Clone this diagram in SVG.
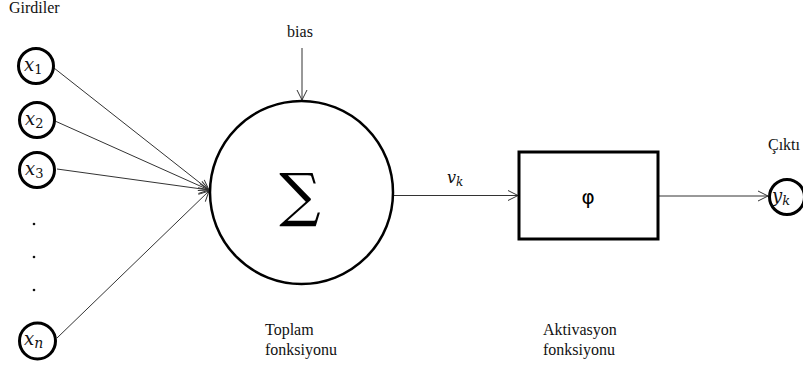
<svg xmlns="http://www.w3.org/2000/svg" width="803" height="371" viewBox="0 0 803 371">
<defs>
<marker id="arr" viewBox="0 0 12 12" refX="11" refY="6" markerWidth="12" markerHeight="12" markerUnits="userSpaceOnUse" orient="auto">
<path d="M1,1 L11,6 L1,11" fill="none" stroke="#333" stroke-width="1"/>
</marker>
<style>
.lbl{font-family:'Liberation Serif',serif;font-size:16px;fill:#111}
.math{font-family:'DejaVu Serif','Liberation Serif',serif;font-style:italic;fill:#111}
.sub{font-style:normal}
.node{fill:#fff;stroke:#000}
.conn{stroke:#333;stroke-width:1;fill:none;marker-end:url(#arr)}
</style>
</defs>
<rect width="803" height="371" fill="#fff"/>
<text class="lbl" x="9" y="13">Girdiler</text>
<g id="connectors">
<line class="conn" x1="54" y1="68" x2="209" y2="190"/>
<line class="conn" x1="55" y1="121" x2="209" y2="190"/>
<line class="conn" x1="57" y1="169" x2="209" y2="190"/>
<line class="conn" x1="57" y1="338" x2="209" y2="191"/>
<line class="conn" x1="302" y1="48" x2="302" y2="100"/>
<line class="conn" x1="393" y1="195.5" x2="518" y2="195.5"/>
<line class="conn" x1="659" y1="196" x2="768" y2="196"/>
</g>
<g id="x1"><circle class="node" cx="36" cy="66" r="17.5" stroke-width="3"/><text class="math" x="24" y="71" font-size="18">x<tspan class="sub" font-size="13" dy="3">1</tspan></text></g>
<g id="x2"><circle class="node" cx="37" cy="120" r="17.5" stroke-width="3"/><text class="math" x="25" y="125" font-size="18">x<tspan class="sub" font-size="13" dy="3">2</tspan></text></g>
<g id="x3"><circle class="node" cx="37" cy="170" r="17.5" stroke-width="3"/><text class="math" x="25" y="175" font-size="18">x<tspan class="sub" font-size="13" dy="3">3</tspan></text></g>
<g id="dots" fill="#111"><circle cx="34" cy="224" r="1.3"/><circle cx="34" cy="257" r="1.3"/><circle cx="34" cy="290" r="1.3"/></g>
<g id="xn"><circle class="node" cx="37.5" cy="341" r="18" stroke-width="3"/><text class="math" x="24" y="345" font-size="18">x<tspan font-size="14" dy="3">n</tspan></text></g>
<g id="bias"><text class="lbl" x="300" y="37" text-anchor="middle">bias</text></g>
<g id="sum"><circle class="node" cx="301.5" cy="192.5" r="91.5" stroke-width="2.5"/><text x="300" y="215" text-anchor="middle" font-family="DejaVu Serif,serif" font-size="58" fill="#000">∑</text></g>
<text class="math" x="447" y="183" font-size="16">v<tspan font-size="12" dy="3">k</tspan></text>
<g id="phi"><rect class="node" x="519" y="152" width="139" height="87" stroke-width="3"/><text x="588" y="204" text-anchor="middle" font-family="DejaVu Sans,sans-serif" font-size="20" fill="#000">φ</text></g>
<g id="yk"><circle class="node" cx="787" cy="197" r="17.5" stroke-width="3"/><text class="math" x="772" y="202" font-size="18">y<tspan font-size="13" dy="3">k</tspan></text></g>
<text class="lbl" x="768" y="150">Çıktı</text>
<text class="lbl" x="265" y="335">Toplam</text>
<text class="lbl" x="265" y="355">fonksiyonu</text>
<text class="lbl" x="543" y="335">Aktivasyon</text>
<text class="lbl" x="543" y="355">fonksiyonu</text>
</svg>
